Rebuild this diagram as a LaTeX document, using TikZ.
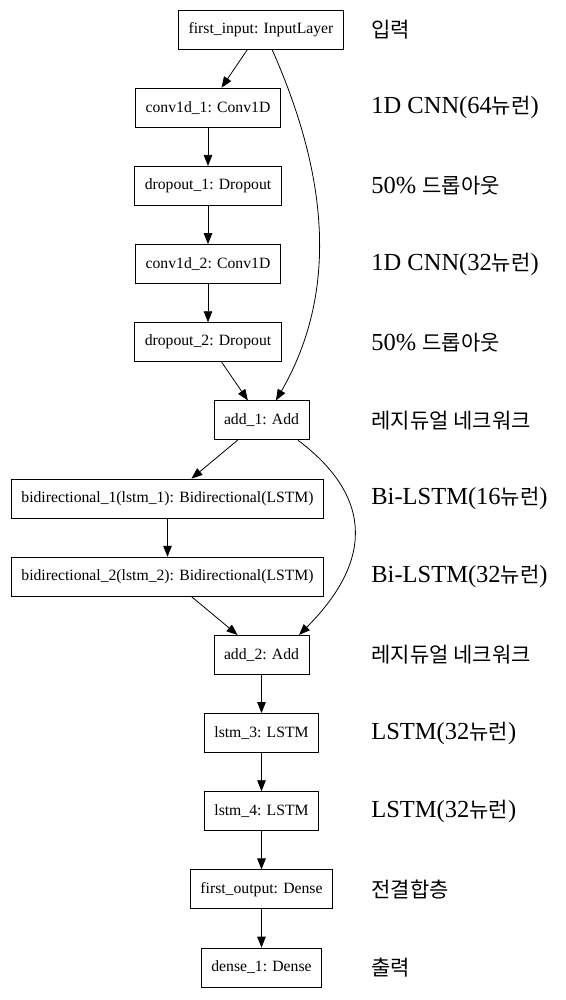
\documentclass[tikz,border=0pt]{standalone}
\usepackage{fontspec}
\setmainfont{Liberation Serif}
\newfontfamily\krfont{Noto Sans CJK KR}
\usetikzlibrary{arrows.meta, positioning}
\newcommand{\kr}[1]{{\fontsize{21pt}{25pt}\selectfont\krfont #1}}

\begin{document}
\begin{tikzpicture}[>={Triangle[length=11pt,width=8.5pt]}, line width=0.8pt, node distance=78.17pt, on grid,
  layer/.style={draw, rectangle, minimum height=39pt, inner xsep=10pt, inner ysep=0pt, font=\fontsize{15.7pt}{18pt}\selectfont},
  note/.style={anchor=west, inner sep=0pt, font=\fontsize{24.5pt}{28pt}\selectfont}]

  \useasboundingbox (0,0) rectangle (565pt,-1000pt);

  \node[layer] (in) at (261pt,-29.5pt) {first\_input: InputLayer};
  \node[layer, below left=78.17pt and 53pt of in] (conv1) {conv1d\_1: Conv1D};
  \node[layer, below=of conv1] (drop1) {dropout\_1: Dropout};
  \node[layer, below=of drop1] (conv2) {conv1d\_2: Conv1D};
  \node[layer, below=of conv2] (drop2) {dropout\_2: Dropout};
  \node[layer, below right=78.17pt and 53.5pt of drop2] (add1) {add\_1: Add};
  \node[layer, below left=78.17pt and 94pt of add1] (bi1) {bidirectional\_1(lstm\_1): Bidirectional(LSTM)};
  \node[layer, below=of bi1] (bi2) {bidirectional\_2(lstm\_2): Bidirectional(LSTM)};
  \node[layer, below right=78.17pt and 94pt of bi2] (add2) {add\_2: Add};
  \node[layer, below=of add2] (lstm3) {lstm\_3: LSTM};
  \node[layer, below=of lstm3] (lstm4) {lstm\_4: LSTM};
  \node[layer, below=of lstm4] (out1) {first\_output: Dense};
  \node[layer, below=of out1] (dense1) {dense\_1: Dense};

  \path[->] (in) edge (conv1);
  \path[->] (conv1) edge (drop1);
  \path[->] (drop1) edge (conv2);
  \path[->] (conv2) edge (drop2);
  \path[->] (drop2) edge (add1);
  \path[->] ([xshift=11pt]in.south) edge [out=-66, in=60, looseness=0.95] ([xshift=14.5pt]add1.north);
  \path[->] (add1) edge (bi1);
  \path[->] (bi1) edge (bi2);
  \path[->] (bi2) edge (add2);
  \path[->] ([xshift=36.5pt]add1.south) edge [out=-37, in=45, looseness=1.3] ([xshift=37.5pt]add2.north);
  \path[->] (add2) edge (lstm3);
  \path[->] (lstm3) edge (lstm4);
  \path[->] (lstm4) edge (out1);
  \path[->] (out1) edge (dense1);

  % labels on the right
  \coordinate (labx) at (371pt,0);
  \foreach \n/\txt in {in/\kr{입력}, conv1/{1D CNN(64\kr{뉴런})}, drop1/{50\% \kr{드롭아웃}},
      conv2/{1D CNN(32\kr{뉴런})}, drop2/{50\% \kr{드롭아웃}}, add1/\kr{레지듀얼 네크워크},
      bi1/{Bi-LSTM(16\kr{뉴런})}, bi2/{Bi-LSTM(32\kr{뉴런})}, add2/\kr{레지듀얼 네크워크},
      lstm3/{LSTM(32\kr{뉴런})}, lstm4/{LSTM(32\kr{뉴런})}, out1/\kr{전결합층}, dense1/\kr{출력}}
    \node[note] (t-\n) at (\n -| labx) {\txt};

\end{tikzpicture}
\end{document}
